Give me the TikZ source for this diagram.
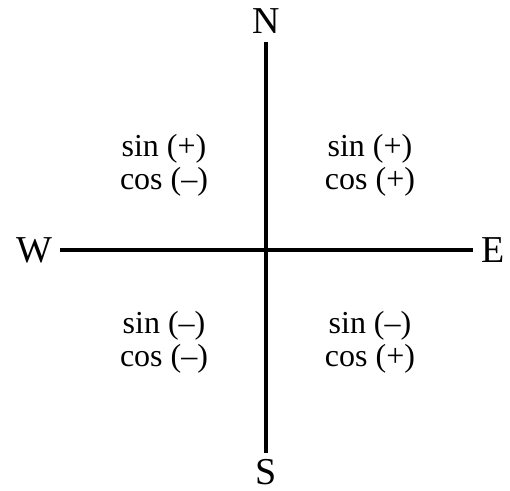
\documentclass[tikz,border=0pt]{standalone}
\usepackage{fontspec}
\setmainfont{Liberation Serif}
\usetikzlibrary{positioning}
\tikzset{
	axis/.style = {line width=1.6pt},
	pole/.style = {inner sep=4pt, font=\fontsize{19}{19}\selectfont},
	quad/.style = {align=center, inner sep=0pt,
	 font=\fontsize{16}{16.5}\selectfont},
}
\begin{document}
\begin{tikzpicture}[x=0.5pt, y=-0.5pt]
	\useasboundingbox (0,0) rectangle (510,491);
               \node (N) [pole] at (266,21) {N};
               \node (S) [pole, inner sep=3pt] at (266,472) {S};
               \node (W) [pole] at (34,250) {W};
               \node (E) [pole] at (493,250) {E};
               \draw [axis] (N) -- (S);
               \draw [axis] (W) -- (E);
               % quadrants
               \node (NW) [quad] at (164,165) {sin (+)\\cos (--)};
               \node (NE) [quad] at (370,165) {sin (+)\\cos (+)};
               \node (SW) [quad] at (164,342) {sin (--)\\cos (--)};
               \node (SE) [quad] at (370,342) {sin (--)\\cos (+)};
        \end{tikzpicture}
\end{document}
